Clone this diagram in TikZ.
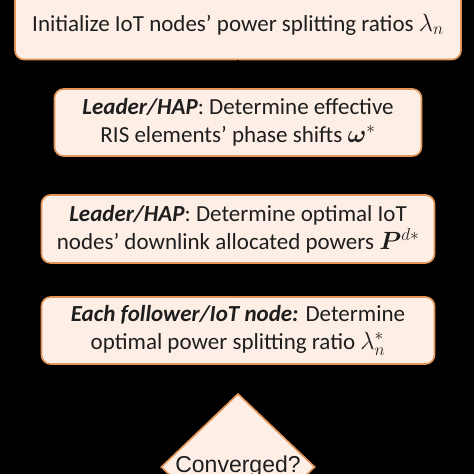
\documentclass[tikz,border=0pt]{standalone}
\usepackage{amsmath,amssymb,bm}
\usepackage{fontspec}
\setmainfont{Carlito}
\newfontfamily\arialfont{Liberation Sans}
\usepackage{tikz}
\usetikzlibrary{positioning,shapes.geometric,arrows}
\definecolor{boxfill}{HTML}{FDEFE5}
\definecolor{boxline}{HTML}{E39457}
\definecolor{inktext}{HTML}{1E1E1E}
\tikzset{
  stepbox/.style={draw=boxline,line width=1.6pt,fill=boxfill,rounded corners=9pt,
    text=inktext,align=center,font=\fontsize{23}{28}\selectfont,inner sep=0pt},
  testbox/.style={diamond,draw=boxline,line width=1.6pt,fill=boxfill,
    text=inktext,font=\arialfont\fontsize{23}{26}\selectfont,inner sep=0pt,
    minimum width=154pt,minimum height=130pt}
}

\begin{document}
\begin{tikzpicture}[x=1pt,y=-1pt,>=stealth,every node/.style={on grid}]
    \useasboundingbox[fill=black] (0,0) rectangle (474,474);
    \node[stepbox,minimum width=446pt,minimum height=70pt] (init) at (238,24.5)
      {Initialize IoT nodes' power splitting ratios $\lambda_n$};
    \node[stepbox,minimum width=367pt,minimum height=67pt,below=98pt of init] (ris)
      {\textbf{\textit{Leader/HAP}}: Determine effective\\RIS elements' phase shifts $\bm{\omega}^{*}$};
    \node[stepbox,minimum width=393pt,minimum height=68pt,below=106.5pt of ris] (pow)
      {\textbf{\textit{Leader/HAP}}: Determine optimal IoT\\nodes' downlink allocated powers $\bm{P}^{d*}$};
    \node[stepbox,minimum width=393pt,minimum height=67pt,below=101.5pt of pow] (psr)
      {\textbf{\textit{Each follower/IoT node:}} Determine\\optimal power splitting ratio $\lambda_n^{*}$};
    \node[testbox,below=136.5pt of psr] (conv) {Converged?};
    \draw[->,black,line width=1.2pt] (init) -- (ris);
    \draw[->,black,line width=1.2pt] (ris) -- (pow);
    \draw[->,black,line width=1.2pt] (pow) -- (psr);
    \draw[->,black,line width=1.2pt] (psr) -- (conv);
\end{tikzpicture}
\end{document}
